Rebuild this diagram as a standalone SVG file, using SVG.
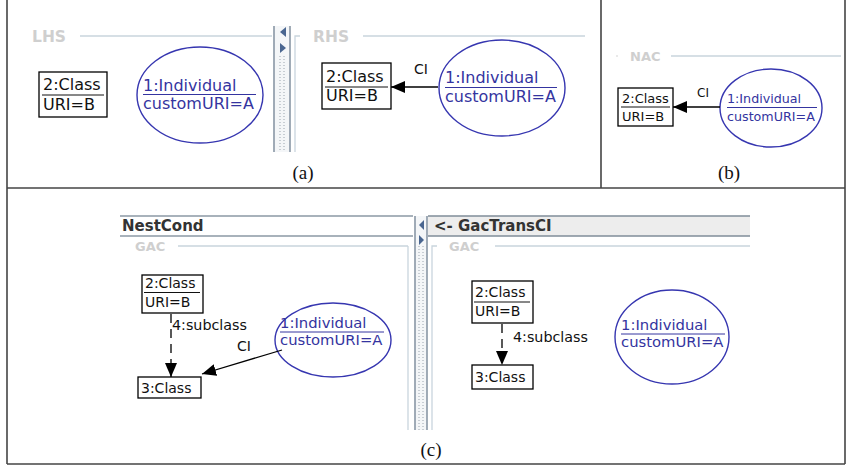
<svg xmlns="http://www.w3.org/2000/svg" width="846" height="467" viewBox="0 0 846 467">
<style>
.frame{stroke:#444;stroke-width:1.6;fill:none}
.box{fill:#fff;stroke:#000;stroke-width:1.3}
.ell{fill:#fff;stroke:#3636b0;stroke-width:1.4}
.t{font-family:"DejaVu Sans",sans-serif;fill:#111}
.tb{font-family:"DejaVu Sans",sans-serif;fill:#3434a0}
.ul{stroke:#111;stroke-width:1}
.ulb{stroke:#3434a0;stroke-width:1}
.lbl{font-family:"DejaVu Sans",sans-serif;font-weight:bold;fill:#cfcfcf}
.hdr{font-family:"DejaVu Sans",sans-serif;font-weight:bold;fill:#333;font-size:15px}
.sep{stroke:#c9d5dd;stroke-width:1.3;fill:none}
.edge{stroke:#000;stroke-width:1.3;fill:none}
.dash{stroke:#000;stroke-width:1.3;fill:none;stroke-dasharray:9,6}
.cap{font-family:"Liberation Serif","DejaVu Serif",serif;font-size:19px;fill:#111;text-anchor:middle}
.spl{fill:#f4f6f8}
.splb{stroke:#8997a5;stroke-width:1.6}
.dots{stroke:#9aa4ae;stroke-width:1;stroke-dasharray:1,2}
.arr{fill:#4a6690}
</style>
<defs>
<marker id="ah" markerUnits="userSpaceOnUse" markerWidth="14" markerHeight="12" refX="14" refY="6" orient="auto">
<path d="M0,0 L14,6 L0,12 z" fill="#000"/>
</marker>
</defs>

<g id="frame">
<line class="frame" x1="7" y1="0" x2="7" y2="464"/>
<line class="frame" x1="845" y1="0" x2="845" y2="464"/>
<line class="frame" x1="7" y1="464" x2="845" y2="464"/>
<line class="frame" x1="7" y1="188" x2="845" y2="188"/>
<line class="frame" x1="601" y1="0" x2="601" y2="188"/>
</g>

<!-- panel (a) -->
<g id="panel-a">
<text class="lbl" x="32" y="42" font-size="15.5">LHS</text>
<line class="sep" x1="80" y1="36" x2="272" y2="36"/>
<rect class="spl" x="274" y="26" width="16" height="126"/>
<line class="splb" x1="274" y1="26" x2="274" y2="152"/>
<line class="splb" x1="290" y1="26" x2="290" y2="152"/>
<line class="dots" x1="280" y1="56" x2="280" y2="152"/>
<line class="dots" x1="284" y1="56" x2="284" y2="152"/>
<path class="arr" d="M286,27 L280,32 L286,37 z"/>
<path class="arr" d="M280,43 L286,48 L280,53 z"/>
<path class="sep" d="M300,36 L295,36 L295,152"/>
<text class="lbl" x="313" y="42" font-size="15.5">RHS</text>
<line class="sep" x1="363" y1="36" x2="585" y2="36"/>
<text class="cap" x="303" y="179">(a)</text>
</g>

<g id="a-lhs-class2">
<rect class="box" x="39" y="72" width="68" height="45"/>
<text class="t" x="43" y="90" font-size="16">2:Class</text>
<line class="ul" x1="42" y1="95" x2="104" y2="95"/>
<text class="t" x="43" y="110" font-size="16">URI=B</text>
</g>
<g id="a-lhs-ind1">
<ellipse class="ell" cx="200" cy="95" rx="63" ry="48"/>
<text class="tb" x="143" y="91" font-size="16">1:Individual</text>
<line class="ulb" x1="143" y1="94.5" x2="256" y2="94.5"/>
<text class="tb" x="143" y="109" font-size="16">customURI=A</text>
</g>

<g id="a-rhs-class2">
<rect class="box" x="322" y="63" width="69" height="46"/>
<text class="t" x="326" y="82" font-size="16">2:Class</text>
<line class="ul" x1="325" y1="87" x2="388" y2="87"/>
<text class="t" x="326" y="101" font-size="16">URI=B</text>
</g>
<g id="a-rhs-ind1">
<ellipse class="ell" cx="502" cy="88" rx="63" ry="48"/>
<text class="tb" x="445" y="83" font-size="16">1:Individual</text>
<line class="ulb" x1="445" y1="87.5" x2="557" y2="87.5"/>
<text class="tb" x="445" y="102" font-size="16">customURI=A</text>
</g>

<!-- panel (b) -->
<g id="panel-b">
<circle cx="617" cy="56" r="0.8" fill="#ccc"/>
<text class="lbl" x="630" y="61" font-size="13">NAC</text>
<line class="sep" x1="671" y1="56" x2="841" y2="56"/>
<text class="cap" x="729" y="179">(b)</text>
</g>
<g id="b-class2">
<rect class="box" x="618" y="88" width="55" height="38"/>
<text class="t" x="622" y="103" font-size="13">2:Class</text>
<line class="ul" x1="621" y1="107" x2="670" y2="107"/>
<text class="t" x="622" y="121" font-size="13">URI=B</text>
</g>
<g id="b-ind1">
<ellipse class="ell" cx="771" cy="108" rx="51" ry="39"/>
<text class="tb" x="727" y="103" font-size="12.7">1:Individual</text>
<line class="ulb" x1="727" y1="107.5" x2="817" y2="107.5"/>
<text class="tb" x="727" y="121" font-size="12.7">customURI=A</text>
</g>

<!-- panel (c) -->
<g id="panel-c">
<line x1="120" y1="216" x2="413" y2="216" stroke="#8b98a4" stroke-width="1.5"/>
<line x1="120" y1="236" x2="413" y2="236" stroke="#8b98a4" stroke-width="1.5"/>
<text class="hdr" x="122" y="231">NestCond</text>
<text class="lbl" x="135" y="251" font-size="13">GAC</text>
<line class="sep" x1="178" y1="246" x2="408" y2="246"/>
<line class="sep" x1="408" y1="246" x2="408" y2="430"/>
<rect class="spl" x="415" y="216" width="12" height="214"/>
<line class="splb" x1="415" y1="216" x2="415" y2="430"/>
<line class="splb" x1="427" y1="216" x2="427" y2="430"/>
<line class="dots" x1="419" y1="246" x2="419" y2="430"/>
<line class="dots" x1="423" y1="246" x2="423" y2="430"/>
<path class="arr" d="M424,220 L419,225 L424,230 z"/>
<path class="arr" d="M419,235 L424,240 L419,245 z"/>
<rect x="428" y="216" width="322" height="20" fill="#ededed"/>
<line x1="428" y1="216" x2="750" y2="216" stroke="#7f8c99" stroke-width="1.5"/>
<line x1="428" y1="236" x2="750" y2="236" stroke="#7f8c99" stroke-width="1.5"/>
<text class="hdr" x="434" y="231">&lt;- GacTransCI</text>
<path class="sep" d="M437,246 L432,246 L432,430"/>
<text class="lbl" x="449" y="251" font-size="13">GAC</text>
<line class="sep" x1="495" y1="246" x2="750" y2="246"/>
<text class="cap" x="431" y="456">(c)</text>
</g>

<g id="c-l-class2">
<rect class="box" x="142" y="275" width="61" height="38"/>
<text class="t" x="145" y="288" font-size="14">2:Class</text>
<line class="ul" x1="144" y1="292.5" x2="200" y2="292.5"/>
<text class="t" x="145" y="307" font-size="14">URI=B</text>
</g>
<g id="c-l-class3">
<rect class="box" x="138" y="377" width="63" height="21"/>
<text class="t" x="141" y="393" font-size="14">3:Class</text>
</g>
<g id="c-l-ind1">
<ellipse class="ell" cx="333" cy="340" rx="58" ry="37"/>
<text class="tb" x="280" y="328" font-size="14.8">1:Individual</text>
<line class="ulb" x1="280" y1="332" x2="384" y2="332"/>
<text class="tb" x="280" y="345" font-size="14.8">customURI=A</text>
</g>

<g id="c-r-class2">
<rect class="box" x="472" y="281" width="61" height="42"/>
<text class="t" x="475" y="297" font-size="14">2:Class</text>
<line class="ul" x1="474" y1="302" x2="530" y2="302"/>
<text class="t" x="475" y="316" font-size="14">URI=B</text>
</g>
<g id="c-r-class3">
<rect class="box" x="472" y="365" width="61" height="24"/>
<text class="t" x="475" y="382" font-size="14">3:Class</text>
</g>
<g id="c-r-ind1">
<ellipse class="ell" cx="672" cy="337" rx="57" ry="47"/>
<text class="tb" x="621" y="330" font-size="14.8">1:Individual</text>
<line class="ulb" x1="621" y1="334" x2="725" y2="334"/>
<text class="tb" x="621" y="347" font-size="14.8">customURI=A</text>
</g>

<g id="connectors">
<line class="edge" x1="438" y1="87" x2="391" y2="87" marker-end="url(#ah)"/>
<text class="t" x="414" y="74" font-size="14">CI</text>
<line class="edge" x1="720" y1="107" x2="673" y2="107" marker-end="url(#ah)"/>
<text class="t" x="697" y="97" font-size="12">CI</text>
<line class="dash" x1="171" y1="314" x2="171" y2="377" marker-end="url(#ah)"/>
<text class="t" x="172" y="330" font-size="14.3">4:subclass</text>
<line class="edge" x1="282" y1="350" x2="202" y2="374" marker-end="url(#ah)"/>
<text class="t" x="237" y="351" font-size="14">CI</text>
<line class="dash" x1="502" y1="324" x2="502" y2="365" marker-end="url(#ah)"/>
<text class="t" x="513" y="342" font-size="14.3">4:subclass</text>
</g>
</svg>
